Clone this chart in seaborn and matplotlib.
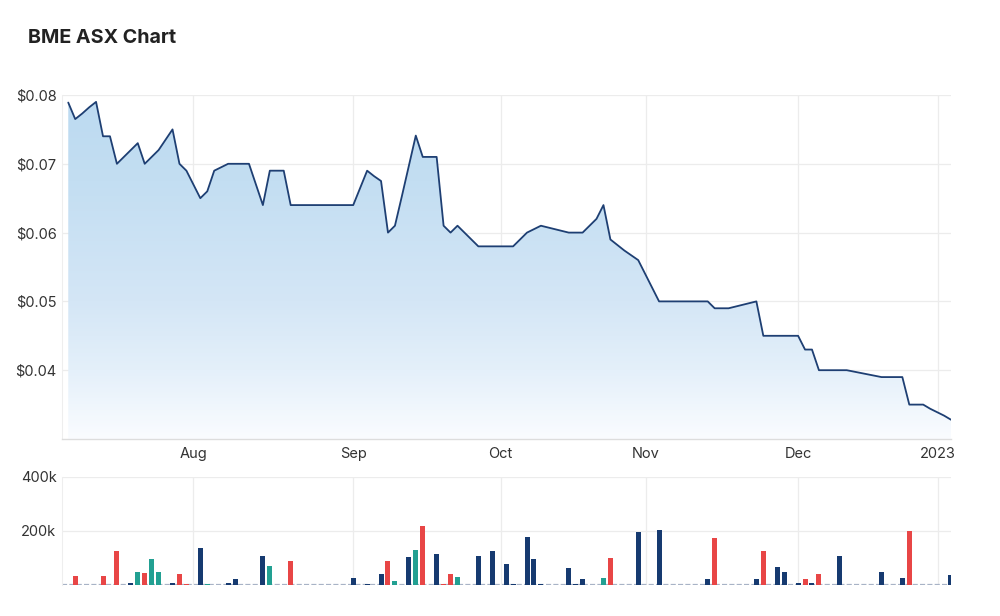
import numpy as np
import pandas as pd
import matplotlib
matplotlib.use("Agg")
import matplotlib.pyplot as plt
import seaborn as sns
from matplotlib.colors import LinearSegmentedColormap
from matplotlib.ticker import FixedLocator, FuncFormatter

# ---------------- data ----------------
price = [
    0.0789, 0.0765, 0.0773, 0.0782, 0.0790, 0.0740, 0.0740, 0.0700, 0.0710, 0.0720,
    0.0730, 0.0700, 0.0710, 0.0720, 0.0735, 0.0750, 0.0700, 0.0690, 0.0670, 0.0650,
    0.0660, 0.0690, 0.0695, 0.0700, 0.0700, 0.0700, 0.0700, 0.0670, 0.0640, 0.0690,
    0.0690, 0.0690, 0.0640, 0.0640, 0.0640, 0.0640, 0.0640, 0.0640, 0.0640, 0.0640,
    0.0640, 0.0640, 0.0665, 0.0690, 0.0682, 0.0675, 0.0600, 0.0610, 0.0653, 0.0697,
    0.0741, 0.0710, 0.0710, 0.0710, 0.0610, 0.0600, 0.0610, 0.0600, 0.0590, 0.0580,
    0.0580, 0.0580, 0.0580, 0.0580, 0.0580, 0.0590, 0.0600, 0.0605, 0.0610, 0.06075,
    0.0605, 0.06025, 0.0600, 0.0600, 0.0600, 0.0610, 0.0620, 0.0640, 0.0590, 0.0582,
    0.0574, 0.0567, 0.0560, 0.0540, 0.0520, 0.0500, 0.0500, 0.0500, 0.0500, 0.0500,
    0.0500, 0.0500, 0.0500, 0.0490, 0.0490, 0.0490, 0.04925, 0.0495, 0.04975, 0.0500,
    0.0450, 0.0450, 0.0450, 0.0450, 0.0450, 0.0450, 0.0430, 0.0430, 0.0400, 0.0400,
    0.0400, 0.0400, 0.0400, 0.0398, 0.0396, 0.0394, 0.0392, 0.0390, 0.0390, 0.0390,
    0.0390, 0.0350, 0.0350, 0.0350, 0.0344, 0.0339, 0.0334, 0.0328,
]

# volume bars: trading-day index, volume, direction (u = up, d = down, f = flat)
vol_index = [1, 5, 7, 9, 10, 11, 12, 13, 15, 16, 17, 19, 20, 21, 23, 24, 28, 29, 32,
             41, 43, 45, 46, 47, 49, 50, 51, 53, 54, 55, 56, 59, 61, 63, 64, 66, 67, 68,
             72, 73, 74, 77, 78, 82, 85, 92, 93, 99, 100, 102, 103, 105, 106, 107, 108,
             111, 117, 120, 121, 127]
vol_value = [32000, 32000, 126000, 9000, 48000, 44000, 96000, 48000, 9000, 41000, 2000,
             136000, 5000, 1500, 9000, 21000, 109000, 69000, 89000,
             25000, 5000, 41000, 89000, 16000, 105000, 128000, 217000, 116000, 4000,
             41000, 28000, 109000, 125000, 77000, 4000, 177000, 96000, 4000,
             64000, 4000, 21000, 25000, 101000, 198000, 205000, 21000, 173000, 21000,
             125000, 68000, 48000, 9000, 21000, 9000, 41000, 109000, 48000, 25000,
             201000, 36000]
vol_dir = ["d", "d", "d", "u", "f", "d", "f", "f", "u", "d", "d", "u", "f", "f", "u", "u",
           "u", "f", "d", "u", "u", "u", "d", "f", "u", "f", "d", "u", "d", "d", "f", "u",
           "u", "u", "u", "u", "u", "u", "u", "u", "u", "f", "d", "u", "u", "u", "d", "u",
           "d", "u", "u", "u", "d", "u", "d", "u", "u", "u", "d", "u"]

month_pos = [18.0, 41.0, 62.2, 83.1, 105.0, 125.1]
month_labels = ["Aug", "Sep", "Oct", "Nov", "Dec", "2023"]
price_ticks = [0.04, 0.05, 0.06, 0.07, 0.08]
vol_ticks = [200000, 400000]

# ---------------- style ----------------
sns.set_theme(style="white")
plt.rcParams["font.family"] = ["Inter", "DejaVu Sans"]

LINE = "#1e3f73"
GRID = "#ececec"
TXT = "#333333"
palette = {"u": "#163a70", "d": "#e84646", "f": "#22a092"}

fig = plt.figure(figsize=(10, 6.16), dpi=100)
ax = fig.add_axes([0.062, 1 - 439 / 616, 0.889, (439 - 95) / 616])
axv = fig.add_axes([0.062, 1 - 585 / 616, 0.889, (585 - 477) / 616])

idx = np.arange(len(price))
xmin, xmax = -0.9, len(price) - 1
ymin, ymax = 0.03, 0.08

# ---------------- price pane ----------------
df_p = pd.DataFrame({"i": idx, "price": price})
poly = ax.fill_between(df_p["i"], df_p["price"], ymin, facecolor="none", edgecolor="none")
grad = np.linspace(1, 0, 512).reshape(-1, 1)
cmap = LinearSegmentedColormap.from_list(
    "g",
    [(0.0, "#fafcff"), (0.2, "#e4f0fa"), (0.4, "#d4e6f6"), (0.75, "#c3def2"), (1.0, "#bcdaf1")],
)
im = ax.imshow(grad, extent=[xmin, xmax, ymin, ymax], aspect="auto", cmap=cmap,
               origin="upper", zorder=1, vmin=0, vmax=1)
im.set_clip_path(poly.get_paths()[0], transform=ax.transData)
sns.lineplot(data=df_p, x="i", y="price", ax=ax, color=LINE, linewidth=1.3, zorder=3)

ax.set_xlim(xmin, xmax)
ax.set_ylim(ymin, ymax)
ax.yaxis.set_major_locator(FixedLocator(price_ticks))
ax.yaxis.set_major_formatter(FuncFormatter(lambda v, p: f"${v:.2f}"))
ax.xaxis.set_major_locator(FixedLocator(month_pos))
ax.set_xticklabels(month_labels)
ax.grid(True, color=GRID, linewidth=0.9, zorder=0)
ax.set_axisbelow(True)
ax.set_xlabel("")
ax.set_ylabel("")
ax.tick_params(axis="both", length=0, labelsize=10.5, colors=TXT)
ax.tick_params(axis="y", pad=4)
ax.tick_params(axis="x", pad=6)
for s in ["top", "right"]:
    ax.spines[s].set_visible(False)
ax.spines["left"].set_color("#eeeeee")
ax.spines["bottom"].set_color("#dddddd")
ax.spines["left"].set_linewidth(0.8)
ax.spines["bottom"].set_linewidth(1.0)

# ---------------- volume pane ----------------
df_v = pd.DataFrame({"i": vol_index, "vol": vol_value, "dir": vol_dir})
axv.axhline(0, color="#a8b3c6", linewidth=1.6, linestyle=(0, (2.3, 1.0)), zorder=1)
sns.barplot(data=df_v, x="i", y="vol", hue="dir", palette=palette, native_scale=True,
            width=0.72, dodge=False, saturation=1, errorbar=None, legend=False,
            ax=axv, zorder=2, linewidth=0)
axv.set_xlim(xmin, xmax)
axv.set_ylim(0, 400000)
axv.yaxis.set_major_locator(FixedLocator(vol_ticks))
axv.yaxis.set_major_formatter(FuncFormatter(lambda v, p: f"{int(v/1000)}k"))
axv.xaxis.set_major_locator(FixedLocator(month_pos))
axv.set_xticklabels([])
axv.grid(True, color=GRID, linewidth=0.9, zorder=0)
axv.set_axisbelow(True)
axv.set_xlabel("")
axv.set_ylabel("")
axv.tick_params(axis="both", length=0, labelsize=10.5, colors=TXT)
axv.tick_params(axis="y", pad=4)
for s in ["top", "right", "bottom"]:
    axv.spines[s].set_visible(False)
axv.spines["left"].set_color("#eeeeee")
axv.spines["left"].set_linewidth(0.8)

fig.text(0.028, 1 - 38 / 616, "BME ASX Chart", fontsize=14.2, fontweight="bold",
         color="#222222", va="center", ha="left")

fig.savefig("out.png", dpi=100, facecolor="white")
